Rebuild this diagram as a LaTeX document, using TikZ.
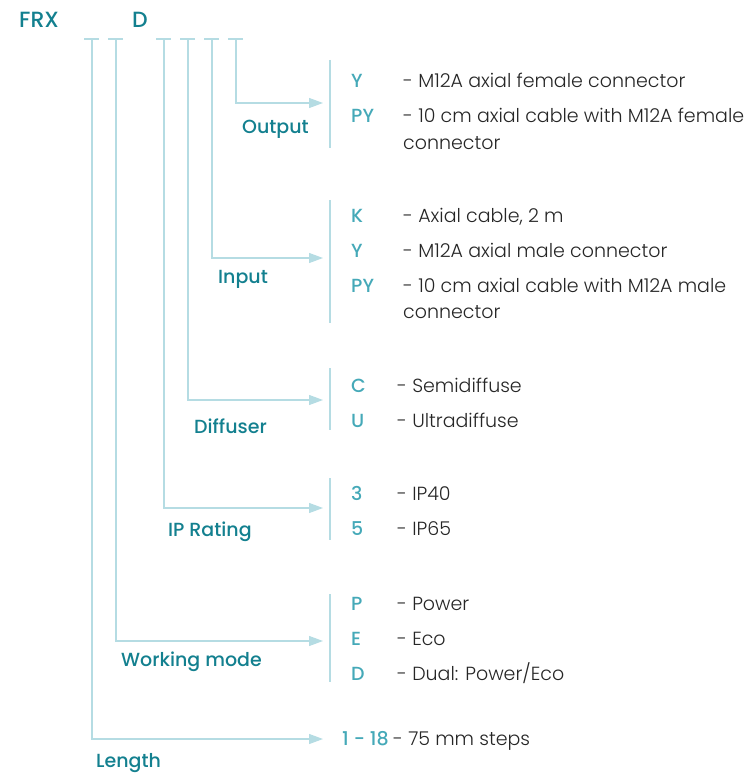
\documentclass[tikz,border=0pt]{standalone}
\usepackage{fontspec}
\setmainfont{Poppins}[UprightFont=* Light, BoldFont=* Medium]
\usetikzlibrary{arrows.meta}
\definecolor{darkteal}{HTML}{13808F}
\definecolor{codeteal}{HTML}{45A9B8}
\definecolor{linecol}{HTML}{B5DCE3}
\definecolor{desccol}{HTML}{262626}
\tikzset{
  title/.style={font=\bfseries\fontsize{22}{26}\selectfont, text=darkteal, inner sep=0pt, anchor=base west},
  group/.style={font=\bfseries\fontsize{19}{23}\selectfont, text=darkteal, inner sep=0pt, anchor=base west},
  code/.style={font=\bfseries\fontsize{19}{23}\selectfont, text=codeteal, inner sep=0pt, anchor=base west},
  desc/.style={font=\fontsize{19}{23}\selectfont, text=desccol, inner sep=0pt, anchor=base west},
  tick/.style={draw=linecol, line width=1.2pt},
  branch/.style={draw=linecol, line width=1.2pt, -{Triangle[length=14pt,width=10pt]}},
  bracket/.style={draw=linecol, line width=1.2pt}
}
\begin{document}
\begin{tikzpicture}[x=1pt, y=-1pt]
    \useasboundingbox (0,0) rectangle (749,773);
    \node [title] (frx) at (19,28) {FRX};
    \node [title] (dd) at (132,28) {D};
    % branches from the part number down to the option lists
    \foreach \name/\x/\y in {len/92/739, work/116/641, ip/164/508, diff/188/400, in/212/258, out/236/103} {
        \coordinate (\name top) at (\x,39);
        \coordinate (\name tl) at (\x-8,39);
        \coordinate (\name tr) at (\x+7,39);
        \coordinate (\name bend) at (\x,\y);
        \coordinate (\name end) at (323,\y);
        \draw [tick] (\name tl) -- (\name tr);
        \draw [branch] (\name top) -- (\name bend) -- (\name end);
    }
    % brackets
    \foreach \name/\a/\b in {out/60/148, in/200/323, diff/368/430, ip/478/540, work/594/682} {
        \coordinate (\name b1) at (330,\a);
        \coordinate (\name b2) at (330,\b);
        \draw [bracket] (\name b1) -- (\name b2);
    }
    % group names
    \node [group] (outlabel) at (242,134) {Output};
    \node [group] (inlabel) at (218,283) {Input};
    \node [group] (difflabel) at (194,433) {Diffuser};
    \node [group] (iplabel) at (168,536) {IP Rating};
    \node [group] (worklabel) at (121,666) {Working mode};
    \node [group] (lenlabel) at (96,767) {Length};
    % output
    \node [code] (outY) at (351,88) {Y};
    \node [desc] (outYd) at (403,88) {- M12A axial female connector};
    \node [code] (outPY) at (351,123) {PY};
    \node [desc] (outPYd) at (403,123) {- 10 cm axial cable with M12A female};
    \node [desc] (outPYe) at (403,149) {connector};
    % input
    \node [code] (inK) at (351,222) {K};
    \node [desc] (inKd) at (403,222) {- Axial cable, 2 m};
    \node [code] (inY) at (351,257) {Y};
    \node [desc] (inYd) at (403,257) {- M12A axial male connector};
    \node [code] (inPY) at (351,292) {PY};
    \node [desc] (inPYd) at (403,292) {- 10 cm axial cable with M12A male};
    \node [desc] (inPYe) at (403,318) {connector};
    % diffuser
    \node [code] (diffC) at (351,392) {C};
    \node [desc] (diffCd) at (397,392) {- Semidiffuse};
    \node [code] (diffU) at (351,427) {U};
    \node [desc] (diffUd) at (397,427) {- Ultradiffuse};
    % ip rating
    \node [code] (ip3) at (351,500) {3};
    \node [desc] (ip3d) at (397,500) {- IP40};
    \node [code] (ip5) at (351,535) {5};
    \node [desc] (ip5d) at (397,535) {- IP65};
    % working mode
    \node [code] (workP) at (351,610) {P};
    \node [desc] (workPd) at (397,610) {- Power};
    \node [code] (workE) at (351,645) {E};
    \node [desc] (workEd) at (397,645) {- Eco};
    \node [code] (workD) at (351,680) {D};
    \node [desc] (workDd) at (397,680) {- Dual: Power/Eco};
    % length
    \node [code] (lenR) at (342,745) {1 - 18};
    \node [desc] (lenRd) at (393,745) {- 75 mm steps};
\end{tikzpicture}
\end{document}
